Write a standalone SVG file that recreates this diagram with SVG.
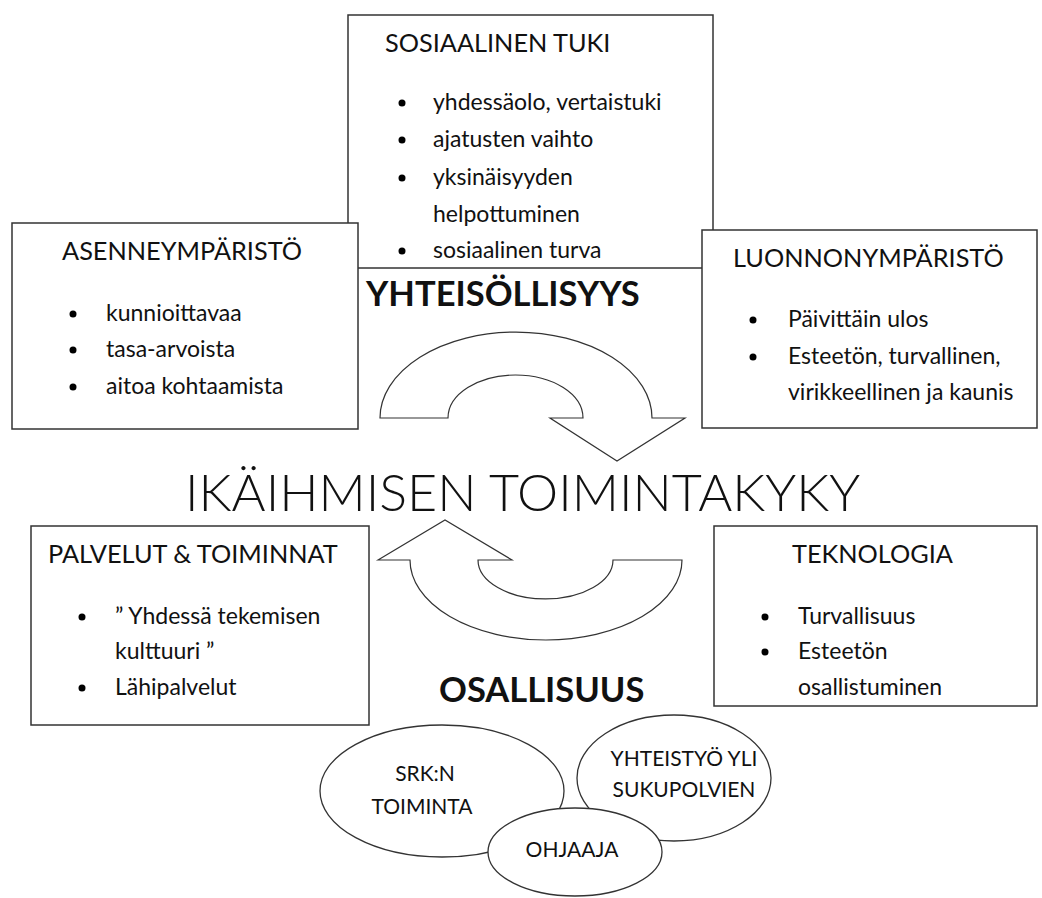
<svg xmlns="http://www.w3.org/2000/svg" width="1042" height="898" viewBox="0 0 1042 898">
<style>
.box{fill:#fff;stroke:#333;stroke-width:1.5}
.ell{fill:#fff;stroke:#333;stroke-width:1.3}
.arr{fill:#fff;stroke:#333;stroke-width:1.2;stroke-linejoin:miter}
text{font-family:Lato,"Open Sans","Liberation Sans",sans-serif;fill:#111}
.h{font-size:25.3px}
.b{font-size:23px}
.big{font-size:34.5px;font-weight:700}
.title{font-size:52px;font-weight:300}
.e{font-size:21px}
.dot{fill:#000}
</style>
<rect width="1042" height="898" fill="#fff"/>
<g id="sosiaalinen-tuki">
<rect class="box" x="348" y="15" width="365" height="253"/>
<text class="h" x="385" y="52">SOSIAALINEN TUKI</text>
<circle class="dot" cx="402" cy="103" r="3.5"/>
<text class="b" x="433" y="110">yhdessäolo, vertaistuki</text>
<circle class="dot" cx="402" cy="140" r="3.5"/>
<text class="b" x="433" y="147">ajatusten vaihto</text>
<circle class="dot" cx="402" cy="178" r="3.5"/>
<text class="b" x="433" y="185">yksinäisyyden</text>
<text class="b" x="433" y="222">helpottuminen</text>
<circle class="dot" cx="402" cy="251" r="3.5"/>
<text class="b" x="433" y="258">sosiaalinen turva</text>
</g>
<g id="asenneymparisto">
<rect class="box" x="12" y="223" width="346" height="206"/>
<text class="h" x="62" y="260">ASENNEYMPÄRISTÖ</text>
<circle class="dot" cx="73" cy="314" r="3.5"/>
<text class="b" x="106" y="321">kunnioittavaa</text>
<circle class="dot" cx="73" cy="350" r="3.5"/>
<text class="b" x="106" y="357">tasa-arvoista</text>
<circle class="dot" cx="73" cy="387" r="3.5"/>
<text class="b" x="106" y="394">aitoa kohtaamista</text>
</g>
<g id="luonnonymparisto">
<rect class="box" x="702" y="230" width="335" height="198"/>
<text class="h" x="733" y="267">LUONNONYMPÄRISTÖ</text>
<circle class="dot" cx="753" cy="320" r="3.5"/>
<text class="b" x="788" y="327">Päivittäin ulos</text>
<circle class="dot" cx="753" cy="357" r="3.5"/>
<text class="b" x="788" y="364">Esteetön, turvallinen,</text>
<text class="b" x="788" y="400">virikkeellinen ja kaunis</text>
</g>
<g id="yhteisollisyys">
<text class="big" x="366" y="306">YHTEISÖLLISYYS</text>
</g>
<g id="connectors">
<path class="arr" d="M380,418 A136,86 0 0 1 652,418 L685,418 L617,461 L550,418 L583,418 A67.5,43 0 0 0 448,418 Z"/>
<path class="arr" d="M378,560 L445,520 L512,560 L478,560 A67.5,39 0 0 0 613,560 L682,560 A136,80 0 0 1 410,560 Z"/>
</g>
<g id="toimintakyky">
<text class="title" x="185" y="511">IKÄIHMISEN TOIMINTAKYKY</text>
</g>
<g id="palvelut">
<rect class="box" x="31" y="526" width="338" height="199"/>
<text class="h" x="48" y="563">PALVELUT &amp; TOIMINNAT</text>
<circle class="dot" cx="82" cy="617" r="3.5"/>
<text class="b" x="115" y="624">” Yhdessä tekemisen</text>
<text class="b" x="115" y="659">kulttuuri ”</text>
<circle class="dot" cx="82" cy="688" r="3.5"/>
<text class="b" x="115" y="695">Lähipalvelut</text>
</g>
<g id="teknologia">
<rect class="box" x="714" y="526" width="323" height="180"/>
<text class="h" x="792" y="563">TEKNOLOGIA</text>
<circle class="dot" cx="765" cy="617" r="3.5"/>
<text class="b" x="798" y="624">Turvallisuus</text>
<circle class="dot" cx="765" cy="652" r="3.5"/>
<text class="b" x="798" y="659">Esteetön</text>
<text class="b" x="798" y="695">osallistuminen</text>
</g>
<g id="osallisuus">
<text class="big" x="439" y="702">OSALLISUUS</text>
</g>
<g id="srk-toiminta">
<ellipse class="ell" cx="442" cy="791" rx="122" ry="66"/>
<text class="e" x="425" y="781" text-anchor="middle">SRK:N</text>
<text class="e" x="422" y="814" text-anchor="middle">TOIMINTA</text>
</g>
<g id="yhteistyo">
<ellipse class="ell" cx="674" cy="778" rx="97" ry="63"/>
<text class="e" x="684" y="766" text-anchor="middle">YHTEISTYÖ YLI</text>
<text class="e" x="684" y="797" text-anchor="middle">SUKUPOLVIEN</text>
</g>
<g id="ohjaaja">
<ellipse class="ell" cx="575" cy="852" rx="87" ry="44"/>
<text class="e" x="572" y="857" text-anchor="middle">OHJAAJA</text>
</g>
</svg>
